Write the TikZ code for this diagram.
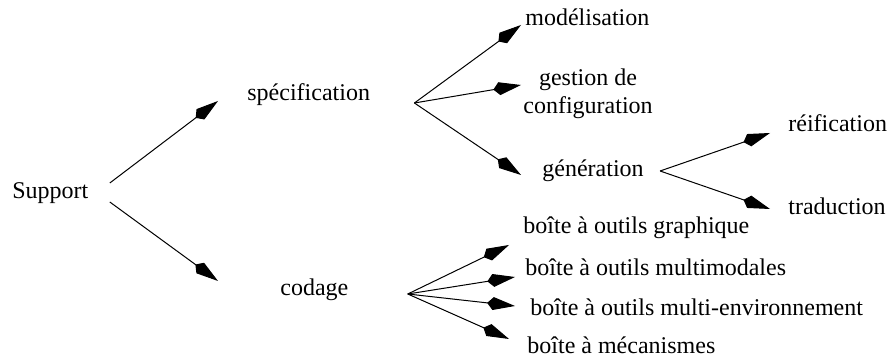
\documentclass[tikz,border=0pt]{standalone}
\usepackage{fontspec}
\setmainfont{Liberation Serif}
\usetikzlibrary{arrows.meta, positioning}

\begin{document}
\begin{tikzpicture}[
    x=0.5pt, y=-0.5pt,
    item/.style={anchor=west, inner sep=1.5pt, align=center, font=\fontsize{12pt}{14pt}\selectfont},
    arrow/.style={-{Kite[length=14pt, width=6.5pt, inset=3pt]}, line width=0.5pt}
]
    \useasboundingbox (0,0) rectangle (888,356);

    % Root
    \node[item] (support) at (9,193) {Support};

    % First level
    \node[item] (spec) at (244,95) {spécification};
    \node[item] (codage) at (277,290) {codage};

    % Under specification
    \node[item] (modelisation) at (522,17) {modélisation};
    \node[item] (gestion) at (520,94) {gestion de\\configuration};
    \node[item] (generation) at (539,171) {génération};

    % Under generation
    \node[item] (reification) at (785,123) {réification};
    \node[item] (traduction) at (785,206) {traduction};

    % Under codage
    \node[item] (graphique) at (520,228) {boîte à outils graphique};
    \node[item] (multimodal) at (522,267) {boîte à outils multimodales};
    \node[item] (multienv) at (527,307) {boîte à outils multi-environnement};
    \node[item] (mecanismes) at (524,345) {boîte à mécanismes};

    % Fan points
    \coordinate (spec-fan) at ([xshift=20.5pt, yshift=-4pt]spec.east);
    \coordinate (gen-fan) at ([xshift=6.5pt]generation.east);
    \coordinate (codage-fan) at ([xshift=28pt, yshift=-2pt]codage.east);

    % Arrows
    \draw[arrow] ([xshift=9pt, yshift=5pt]support.east) -- ([xshift=-13pt, yshift=-3pt]spec.west);
    \draw[arrow] ([xshift=9pt, yshift=-4.5pt]support.east) -- ([xshift=-29.5pt, yshift=4.5pt]codage.west);

    \draw[arrow] (spec-fan) -- ([xshift=-0.5pt, yshift=-4pt]modelisation.west);
    \draw[arrow] (spec-fan) -- ([xshift=0.5pt, yshift=4.5pt]gestion.west);
    \draw[arrow] (spec-fan) -- ([xshift=-9pt, yshift=-2pt]generation.west);

    \draw[arrow] (gen-fan) -- ([xshift=-7.5pt, yshift=-5pt]reification.west);
    \draw[arrow] (gen-fan) -- ([xshift=-7.5pt, yshift=-1.5pt]traduction.west);

    \draw[arrow] (codage-fan) -- ([xshift=-5.5pt, yshift=-8.5pt]graphique.west);
    \draw[arrow] (codage-fan) -- ([xshift=-3.5pt, yshift=-5pt]multimodal.west);
    \draw[arrow] (codage-fan) -- ([xshift=-6pt, yshift=0.5pt]multienv.west);
    \draw[arrow] (codage-fan) -- ([xshift=-7.5pt, yshift=3pt]mecanismes.west);
\end{tikzpicture}
\end{document}
